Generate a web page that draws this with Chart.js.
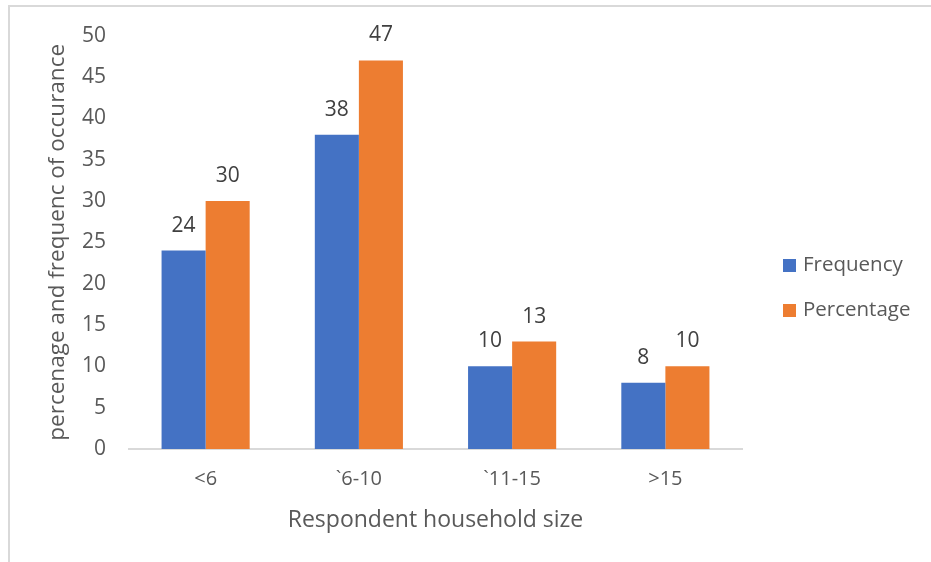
<!DOCTYPE html>
<html>
<head>
<meta charset="utf-8">
<script src="https://cdn.jsdelivr.net/npm/chart.js"></script>
<style>
  html, body { margin: 0; padding: 0; background: #fff; }
  body { width: 931px; height: 562px; position: relative; overflow: hidden; font-family: 'Open Sans', sans-serif; }
  #frame { position: absolute; left: 8px; top: 5px; width: 940px; height: 570px; border-left: 2px solid #d9d9d9; border-top: 2px solid #d9d9d9; }
  #wrap { position: absolute; left: 0; top: 0; width: 931px; height: 562px; }
  .legend { position: absolute; left: 783px; font-size: 20.5px; color: #595959; line-height: 1; }
  .legend span { display: inline-block; width: 13px; height: 13px; margin-right: 7px; vertical-align: -1px; }
</style>
</head>
<body>
<div id="frame"></div>
<div id="wrap"><canvas id="chart" width="931" height="562"></canvas></div>
<div class="legend" style="top:253px"><span style="background:#4472c4"></span>Frequency</div>
<div class="legend" style="top:298px"><span style="background:#ed7d31"></span>Percentage</div>
<script>
  const categories = ['<6', '`6-10', '`11-15', '>15'];
  const frequency = [24, 38, 10, 8];
  const percentage = [30, 47, 13, 10];
  const yTicks = [0, 5, 10, 15, 20, 25, 30, 35, 40, 45, 50];

  // value labels above each bar, placed from the bar elements
  const barLabels = {
    id: 'barLabels',
    afterDatasetsDraw(chart) {
      const ctx = chart.ctx;
      ctx.save();
      ctx.font = '21px "Open Sans"';
      ctx.fillStyle = '#404040';
      ctx.textAlign = 'center';
      ctx.textBaseline = 'middle';
      chart.data.datasets.forEach((ds, i) => {
        chart.getDatasetMeta(i).data.forEach((bar, j) => {
          ctx.fillText(ds.data[j], bar.x, bar.y - 25);
        });
      });
      ctx.restore();
    }
  };

  new Chart(document.getElementById('chart'), {
    type: 'bar',
    data: {
      labels: categories,
      datasets: [
        { label: 'Frequency', data: frequency, backgroundColor: '#4472c4' },
        { label: 'Percentage', data: percentage, backgroundColor: '#ed7d31' }
      ]
    },
    options: {
      responsive: false,
      animation: false,
      layout: { padding: { top: 33, right: 189, bottom: 0, left: 0 } },
      datasets: { bar: { categoryPercentage: 0.575, barPercentage: 1.0 } },
      plugins: { legend: { display: false }, tooltip: { enabled: false } },
      scales: {
        x: {
          grid: { display: false, drawTicks: false },
          border: { display: true, color: '#d9d9d9', width: 2 },
          ticks: { color: '#595959', font: { family: 'Open Sans', size: 20 }, padding: 18 },
          title: {
            display: true, text: 'Respondent household size', color: '#595959',
            font: { family: 'Open Sans', size: 23 }, padding: { top: 0, bottom: 28 }
          },
          afterFit(scale) { scale.height = 113; }
        },
        y: {
          min: 0, max: 50,
          grid: { display: false, drawTicks: false },
          border: { display: false },
          afterBuildTicks(scale) { scale.ticks = yTicks.map(v => ({ value: v })); },
          ticks: { color: '#595959', font: { family: 'Open Sans', size: 21 }, padding: 23 },
          title: {
            display: true, text: 'percenage and frequenc of occurance', color: '#595959',
            font: { family: 'Open Sans', size: 22.5 }, padding: { top: 44, bottom: 0 }
          },
          afterFit(scale) { scale.width = 129; }
        }
      }
    },
    plugins: [barLabels]
  });
</script>
</body>
</html>
